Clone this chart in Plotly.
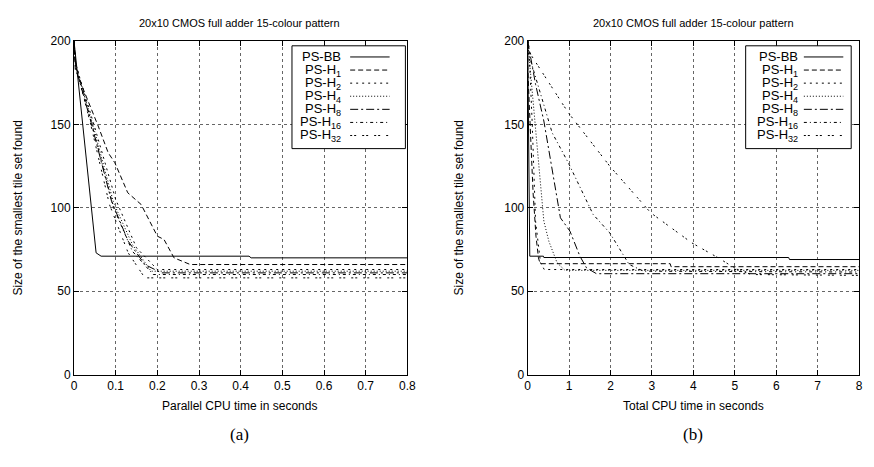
import plotly.graph_objects as go

# ---------------- data ----------------
# (a) parallel CPU time
bb_par_t = [0, 0.053, 0.065, 0.42, 0.425, 0.8]
bb_par_v = [200, 73, 71, 71, 70, 70]
h1_par_t = [0, 0.003, 0.058, 0.082, 0.098, 0.129, 0.161, 0.2, 0.216, 0.24, 0.279, 0.8]
h1_par_v = [200, 183, 149, 133, 127, 109, 102, 83, 81, 70, 66, 66]
h2_par_t = [0, 0.004, 0.05, 0.1, 0.15, 0.2, 0.8]
h2_par_v = [200, 186, 148, 105, 76, 63, 63]
h4_par_t = [0, 0.004, 0.045, 0.095, 0.14, 0.185, 0.8]
h4_par_v = [200, 185, 150, 103, 78, 62, 62]
h8_par_t = [0, 0.004, 0.04, 0.09, 0.13, 0.17, 0.21, 0.8]
h8_par_v = [200, 184, 152, 104, 80, 66, 61, 61]
h16_par_t = [0, 0.004, 0.045, 0.095, 0.14, 0.19, 0.8]
h16_par_v = [200, 187, 148, 100, 74, 60, 60]
h32_par_t = [0, 0.004, 0.04, 0.085, 0.13, 0.17, 0.8]
h32_par_v = [200, 185, 150, 102, 73, 58, 58]

# (b) total CPU time
bb_tot_t = [0, 0.045, 0.05, 0.38, 0.39, 6.3, 6.32, 8]
bb_tot_v = [200, 75, 71, 71, 70.2, 70.2, 69, 69]
h1_tot_t = [0, 0.003, 0.06, 0.13, 0.2, 0.26, 0.3, 3.44, 3.46, 8]
h1_tot_v = [200, 183, 149, 109, 83, 70, 66.5, 66.5, 64.7, 64.7]
h2_tot_t = [0, 0.05, 0.11, 0.19, 0.31, 0.4, 8]
h2_tot_v = [200, 185, 150, 92, 67, 63, 63]
h4_tot_t = [0, 0.07, 0.39, 0.51, 0.71, 0.9, 8]
h4_tot_v = [200, 180, 92, 80, 67, 62.5, 62.5]
h8_tot_t = [0, 0.19, 0.39, 0.79, 1.02, 1.26, 1.42, 1.66, 8]
h8_tot_v = [200, 174, 152, 94, 86, 71, 64, 60.5, 60.5]
h16_tot_t = [0, 0.05, 0.59, 0.98, 1.58, 1.98, 2.45, 2.8, 8]
h16_tot_v = [200, 190, 145, 127, 96, 85, 66, 62, 61.5]
h32_tot_t = [0, 0.07, 0.98, 1.98, 2.97, 3.96, 4.6, 5.03, 5.4, 8]
h32_tot_v = [200, 192, 157, 125, 97, 79, 70, 63.4, 60, 59.5]

names = ["PS-BB", "PS-H<sub>1</sub>", "PS-H<sub>2</sub>", "PS-H<sub>4</sub>",
         "PS-H<sub>8</sub>", "PS-H<sub>16</sub>", "PS-H<sub>32</sub>"]
dashes = ["solid", "5px,3px", "2px,4px", "1px,2px", "8px,3px,2px,3px",
          "3px,3px,1px,3px", "2px,2px,2px,6px"]

x_ticks_a = [0, 0.1, 0.2, 0.3, 0.4, 0.5, 0.6, 0.7, 0.8]
x_ticks_b = [0, 1, 2, 3, 4, 5, 6, 7, 8]
y_ticks = [0, 50, 100, 150, 200]

title_text = "20x10 CMOS full adder 15-colour pattern"
ylabel = "Size of the smallest tile set found"
xlabel_a = "Parallel CPU time in seconds"
xlabel_b = "Total CPU time in seconds"

par = [(bb_par_t, bb_par_v), (h1_par_t, h1_par_v), (h2_par_t, h2_par_v), (h4_par_t, h4_par_v),
       (h8_par_t, h8_par_v), (h16_par_t, h16_par_v), (h32_par_t, h32_par_v)]
tot = [(bb_tot_t, bb_tot_v), (h1_tot_t, h1_tot_v), (h2_tot_t, h2_tot_v), (h4_tot_t, h4_tot_v),
       (h8_tot_t, h8_tot_v), (h16_tot_t, h16_tot_v), (h32_tot_t, h32_tot_v)]

W, H = 874, 467
def px(x):
    return x / W
def py(y):
    return 1 - y / H

FONT = "Liberation Sans, Arial, Helvetica, sans-serif"

fig = go.Figure()
for (t, v), d in zip(par, dashes):
    fig.add_trace(go.Scatter(x=t, y=v, mode="lines", xaxis="x", yaxis="y", hoverinfo="skip",
                             line=dict(color="black", width=1, dash=d), showlegend=False))
for (t, v), d in zip(tot, dashes):
    fig.add_trace(go.Scatter(x=t, y=v, mode="lines", xaxis="x2", yaxis="y2", hoverinfo="skip",
                             line=dict(color="black", width=1, dash=d), showlegend=False))

ax_common = dict(showline=True, linecolor="black", linewidth=1, mirror="allticks",
                 ticks="inside", ticklen=5, tickcolor="black", tickwidth=1,
                 showgrid=True, gridcolor="#666", griddash="dot", gridwidth=1,
                 zeroline=False, tickfont=dict(family=FONT, size=12, color="black"))

y_dom = [py(379), py(35)]
fig.update_layout(
    width=W, height=H, margin=dict(l=0, r=0, t=0, b=0),
    paper_bgcolor="white", plot_bgcolor="white",
    xaxis=dict(domain=[px(72), px(410)], range=[0, 0.8], tickvals=x_ticks_a,
               ticktext=[str(v) for v in x_ticks_a], anchor="y", **ax_common),
    yaxis=dict(domain=y_dom, range=[0, 200], tickvals=y_ticks, anchor="x", **ax_common),
    xaxis2=dict(domain=[px(532), px(868)], range=[0, 8], tickvals=x_ticks_b, anchor="y2", **ax_common),
    yaxis2=dict(domain=y_dom, range=[0, 200], tickvals=y_ticks, anchor="x2", **ax_common),
)

annots = []
shapes = []
for cx, xl, lab, ylx in [(240, xlabel_a, "(a)", 15), (700, xlabel_b, "(b)", 462)]:
    annots.append(dict(x=px(cx), y=py(16), xref="paper", yref="paper", text=title_text,
                       xanchor="center", yanchor="middle",
                       showarrow=False, font=dict(family=FONT, size=11, color="black")))
    annots.append(dict(x=px(cx), y=py(411), xref="paper", yref="paper", text=xl,
                       xanchor="center", yanchor="middle",
                       showarrow=False, font=dict(family=FONT, size=12, color="black")))
    annots.append(dict(x=px(cx), y=py(441), xref="paper", yref="paper", text=lab,
                       xanchor="center", yanchor="middle",
                       showarrow=False, font=dict(family="Liberation Serif, DejaVu Serif, serif", size=17, color="black")))
    annots.append(dict(x=px(ylx), y=py(207), xref="paper", yref="paper", text=ylabel,
                       xanchor="center", yanchor="middle",
                       textangle=-90, showarrow=False, font=dict(family=FONT, size=12, color="black")))

# custom legends (text on the left, line sample on the right)
for bx0, bx1, txr, lx0, lx1 in [(293, 408, 345, 352, 392), (753, 860, 808, 812, 852)]:
    shapes.append(dict(type="rect", xref="paper", yref="paper", x0=px(bx0), x1=px(bx1),
                       y0=py(146), y1=py(40), line=dict(color="black", width=1), fillcolor="white"))
    for i, (nm, d) in enumerate(zip(names, dashes)):
        yy = 51.5 + i * 13.5
        annots.append(dict(x=px(txr), y=py(yy), xref="paper", yref="paper", text=nm,
                           xanchor="right", yanchor="middle", showarrow=False,
                           font=dict(family=FONT, size=13, color="black")))
        shapes.append(dict(type="line", xref="paper", yref="paper", x0=px(lx0), x1=px(lx1),
                           y0=py(yy), y1=py(yy), line=dict(color="black", width=1, dash=d)))

fig.update_layout(annotations=annots, shapes=shapes)
fig.write_html(
    "out.html",
    config={"displayModeBar": False, "staticPlot": True},
    post_script=("document.documentElement.style.margin='0';"
                 "document.documentElement.style.overflow='hidden';"
                 "document.body.style.margin='0';document.body.style.padding='0';"
                 "document.body.style.overflow='hidden';"),
)
